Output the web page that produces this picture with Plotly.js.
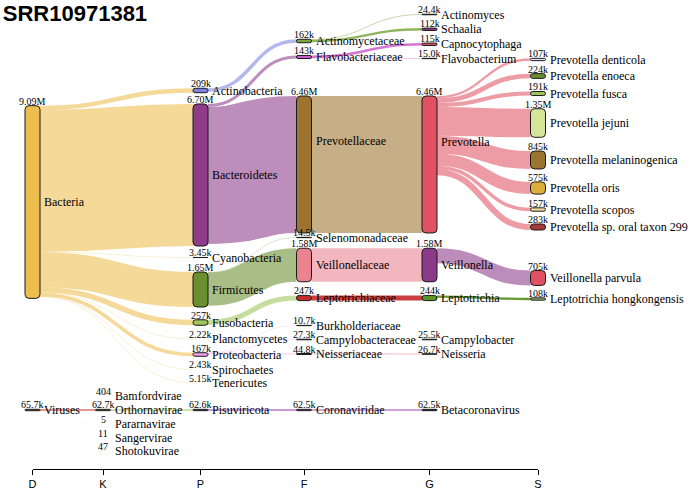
<!DOCTYPE html>
<html>
<head>
<meta charset="utf-8">
<script src="https://cdn.plot.ly/plotly-3.0.1.min.js"></script>
<style>
  html, body { margin: 0; padding: 0; background: #fff; }
  #chart { width: 693px; height: 489px; }
</style>
</head>
<body>
<div id="chart"></div>
<script>
const sampleName = "SRR10971381";
const ranks = ["D", "K", "P", "F", "G", "S"];

const nodeNames = [
  "Bacteria", "Viruses",
  "Bamfordvirae", "Orthornavirae", "Pararnavirae", "Sangervirae", "Shotokuvirae",
  "Actinobacteria", "Bacteroidetes", "Cyanobacteria", "Firmicutes", "Fusobacteria",
  "Planctomycetes", "Proteobacteria", "Spirochaetes", "Tenericutes", "Pisuviricota",
  "Actinomycetaceae", "Flavobacteriaceae", "Prevotellaceae", "Selenomonadaceae", "Veillonellaceae",
  "Leptotrichiaceae", "Burkholderiaceae", "Campylobacteraceae", "Neisseriaceae", "Coronaviridae",
  "Actinomyces", "Schaalia", "Capnocytophaga", "Flavobacterium", "Prevotella",
  "Veillonella", "Leptotrichia", "Campylobacter", "Neisseria", "Betacoronavirus",
  "Prevotella denticola", "Prevotella enoeca", "Prevotella fusca", "Prevotella jejuni",
  "Prevotella melaninogenica", "Prevotella oris", "Prevotella scopos", "Prevotella sp. oral taxon 299",
  "Veillonella parvula", "Leptotrichia hongkongensis"
];
const nodeRanks = [
  "D", "D",
  "K", "K", "K", "K", "K",
  "P", "P", "P", "P", "P", "P", "P", "P", "P", "P",
  "F", "F", "F", "F", "F", "F", "F", "F", "F", "F",
  "G", "G", "G", "G", "G", "G", "G", "G", "G", "G",
  "S", "S", "S", "S", "S", "S", "S", "S", "S", "S"
];
const nodeValues = [
  9090000, 65700,
  404, 62700, 5, 11, 47,
  209000, 6700000, 3450, 1650000, 257000, 2220, 167000, 2430, 5150, 62600,
  162000, 143000, 6460000, 14500, 1580000, 247000, 10700, 27300, 44800, 62500,
  24400, 112000, 115000, 15000, 6460000, 1580000, 244000, 25500, 26700, 62500,
  107000, 224000, 191000, 1350000, 845000, 575000, 157000, 283000,
  705000, 108000
];
const nodeParents = [
  null, null,
  "Viruses", "Viruses", "Viruses", "Viruses", "Viruses",
  "Bacteria", "Bacteria", "Bacteria", "Bacteria", "Bacteria",
  "Bacteria", "Bacteria", "Bacteria", "Bacteria", "Orthornavirae",
  "Actinobacteria", "Bacteroidetes", "Bacteroidetes", "Firmicutes", "Firmicutes",
  "Fusobacteria", "Proteobacteria", "Proteobacteria", "Proteobacteria", "Pisuviricota",
  "Actinomycetaceae", "Actinomycetaceae", "Flavobacteriaceae", "Flavobacteriaceae", "Prevotellaceae",
  "Veillonellaceae", "Leptotrichiaceae", "Campylobacteraceae", "Neisseriaceae", "Coronaviridae",
  "Prevotella", "Prevotella", "Prevotella", "Prevotella",
  "Prevotella", "Prevotella", "Prevotella", "Prevotella",
  "Veillonella", "Leptotrichia"
];

// ---- layout of the diagram (pixel units, what the sankey relaxation produced) ----
const colX = { D: 32.5, K: 103, P: 200.5, F: 304, G: 429.5, S: 538 };
const nodeCenterY = [
  202, 410,
  396, 410, 424, 437.5, 451,
  90.5, 175, 257.5, 289.5, 322.5, 339, 354.5, 369.5, 383, 410,
  41, 57, 164.5, 237.5, 265, 298, 325.5, 339.5, 354, 410,
  14.5, 29.3, 44.3, 58.5, 164.5, 265, 298, 339.5, 354, 410,
  59.5, 76, 93.5, 123, 160, 188, 209.5, 227,
  278, 299
];
const nodeColors = [
  "#edbd4e", "#d0584a",
  "#cccccc", "#8fbf3a", "#cccccc", "#cccccc", "#cccccc",
  "#7b83e0", "#8e3b8a", "#9ecae1", "#6b8e2f", "#9dc55a",
  "#bbbbbb", "#f0a0ec", "#cccccc", "#dddddd", "#a455c0",
  "#7ba83d", "#cf5ccb", "#9c7430", "#9dc55a", "#e8838f",
  "#c42a2a", "#cccccc", "#c8c8c0", "#e0687c", "#b066c2",
  "#9dc55a", "#8e3b8a", "#e05262", "#cccccc", "#e05262",
  "#8b3a8a", "#5e9426", "#cccccc", "#cccccc", "#2b3a67",
  "#e4e6ff", "#6b8e2f", "#9dc55a", "#d4e59a",
  "#9c7430", "#dcae3a", "#f5e0a0", "#a83a3a",
  "#e05262", "#9db87a"
];
// leaves that Pavian shows as text only, without a node box
const noBox = ["Bamfordvirae", "Pararnavirae", "Sangervirae", "Shotokuvirae",
               "Planctomycetes", "Spirochaetes", "Tenericutes"];
const labelShift = { "Prevotellaceae": -24, "Prevotella": -23 };
// thin outgoing links of these nodes look almost opaque in the reference
const strongLinks = { "Viruses": 0.8, "Actinomycetaceae": 0.85, "Flavobacteriaceae": 0.85,
  "Leptotrichiaceae": 0.9, "Leptotrichia": 0.95, "Neisseriaceae": 0.85,
  "Pisuviricota": 0.8, "Coronaviridae": 0.8 };
const nodeW = 15;
const pxPerRead = 21.2e-6;
const linkAlpha = 0.58;
const plotH = 469;

function fmt(v) {
  if (v < 1000) return String(v);
  if (v < 1e6) return (v / 1e3).toPrecision(3) + "k";
  return (v / 1e6).toPrecision(3) + "M";
}
function rgba(hex, a) {
  const n = parseInt(hex.slice(1), 16);
  return `rgba(${(n >> 16) & 255},${(n >> 8) & 255},${n & 255},${a})`;
}

const idx = {};
nodeNames.forEach((n, i) => idx[n] = i);

const nodes = nodeNames.map((name, i) => {
  const h = nodeValues[i] * pxPerRead;
  const cx = colX[nodeRanks[i]];
  return {
    name, h, cx,
    x0: cx - nodeW / 2, x1: cx + nodeW / 2,
    y0: nodeCenterY[i] - h / 2, y1: nodeCenterY[i] + h / 2,
    color: nodeColors[i], children: []
  };
});
nodeParents.forEach((p, i) => { if (p) nodes[idx[p]].children.push(i); });

const shapes = [];
const annotations = [];

// links: stacked from the top of the source node, ordered by target position
nodes.forEach(src => {
  const kids = src.children.slice().sort((a, b) => nodeCenterY[a] - nodeCenterY[b]);
  const alpha = strongLinks[src.name] || linkAlpha;
  let off = 0;
  kids.forEach(k => {
    const tgt = nodes[k];
    const w = nodeValues[k] * pxPerRead;
    const ys = src.y0 + off + w / 2;
    const yt = tgt.y0 + w / 2;
    off += w;
    const xs = src.x1, xt = tgt.x0, xm = (xs + xt) / 2;
    // very small links are kept hairline-thin so they still show
    const minW = nodeValues[k] < 1000 ? 0.05 : 0.4;
    shapes.push({
      type: "path", xref: "x", yref: "y", layer: "above",
      path: `M${xs},${ys} C${xm},${ys} ${xm},${yt} ${xt},${yt}`,
      line: { color: rgba(src.color, alpha), width: Math.max(w, minW) },
      fillcolor: "rgba(0,0,0,0)"
    });
  });
});

// nodes: rounded boxes
nodes.forEach(n => {
  if (noBox.includes(n.name)) return;
  const r = Math.min(4, n.h / 2, nodeW / 2);
  const { x0, x1, y0, y1 } = n;
  shapes.push({
    type: "path", xref: "x", yref: "y", layer: "above",
    path: `M${x0 + r},${y0} H${x1 - r} Q${x1},${y0} ${x1},${y0 + r} V${y1 - r} Q${x1},${y1} ${x1 - r},${y1} H${x0 + r} Q${x0},${y1} ${x0},${y1 - r} V${y0 + r} Q${x0},${y0} ${x0 + r},${y0} Z`,
    fillcolor: n.color,
    line: { color: "#1a1a1a", width: 1 }
  });
});

// labels: value above the node, name to its right
const serif = "Liberation Serif, Times New Roman, serif";
nodes.forEach((n, i) => {
  annotations.push({
    x: n.cx, y: n.y0 + 2, xref: "x", yref: "y",
    text: fmt(nodeValues[i]), showarrow: false,
    xanchor: "center", yanchor: "bottom", borderpad: 0,
    font: { family: serif, size: 10, color: "#000" }
  });
  annotations.push({
    x: n.x1 + 3, y: nodeCenterY[i] + (labelShift[n.name] || 0), xref: "x", yref: "y",
    text: n.name, showarrow: false,
    xanchor: "left", yanchor: "middle", borderpad: 0,
    font: { family: serif, size: 12, color: "#000" }
  });
});

const traces = [
  {
    x: nodes.map(n => n.cx), y: nodeCenterY,
    text: nodeNames.map((n, i) => `${n}: ${fmt(nodeValues[i])}`),
    type: "scatter", mode: "markers", marker: { opacity: 0, size: 10 },
    hoverinfo: "text", showlegend: false
  },
  {
    x: ranks.map(r => colX[r]), y: ranks.map(() => plotH),
    type: "scatter", mode: "markers", marker: { opacity: 0 },
    xaxis: "x2", yaxis: "y", hoverinfo: "skip", showlegend: false
  }
];

const layout = {
  width: 693, height: 489,
  margin: { l: 0, r: 0, t: 0, b: 489 - plotH },
  paper_bgcolor: "white", plot_bgcolor: "white",
  title: {
    text: "<b>" + sampleName + "</b>",
    font: { family: "Liberation Sans, Arial, sans-serif", size: 22, color: "#000" },
    x: 0.004, xref: "container", xanchor: "left",
    y: 0.989, yref: "container", yanchor: "top", pad: { t: 0, l: 0 }
  },
  xaxis: { range: [0, 693], visible: false, fixedrange: true },
  yaxis: { range: [plotH, 0], visible: false, fixedrange: true },
  xaxis2: {
    domain: [colX.D / 693, colX.S / 693], range: [colX.D, colX.S],
    anchor: "y", side: "bottom",
    tickvals: ranks.map(r => colX[r]), ticktext: ranks,
    showline: true, linecolor: "#000", linewidth: 1,
    ticks: "outside", ticklen: 5, tickcolor: "#000", tickwidth: 1,
    showgrid: false, zeroline: false, fixedrange: true,
    tickfont: { family: "Liberation Sans, Arial, sans-serif", size: 11, color: "#000" }
  },
  shapes, annotations,
  showlegend: false, hovermode: "closest"
};

Plotly.newPlot("chart", traces, layout, { displayModeBar: false });
</script>
</body>
</html>
